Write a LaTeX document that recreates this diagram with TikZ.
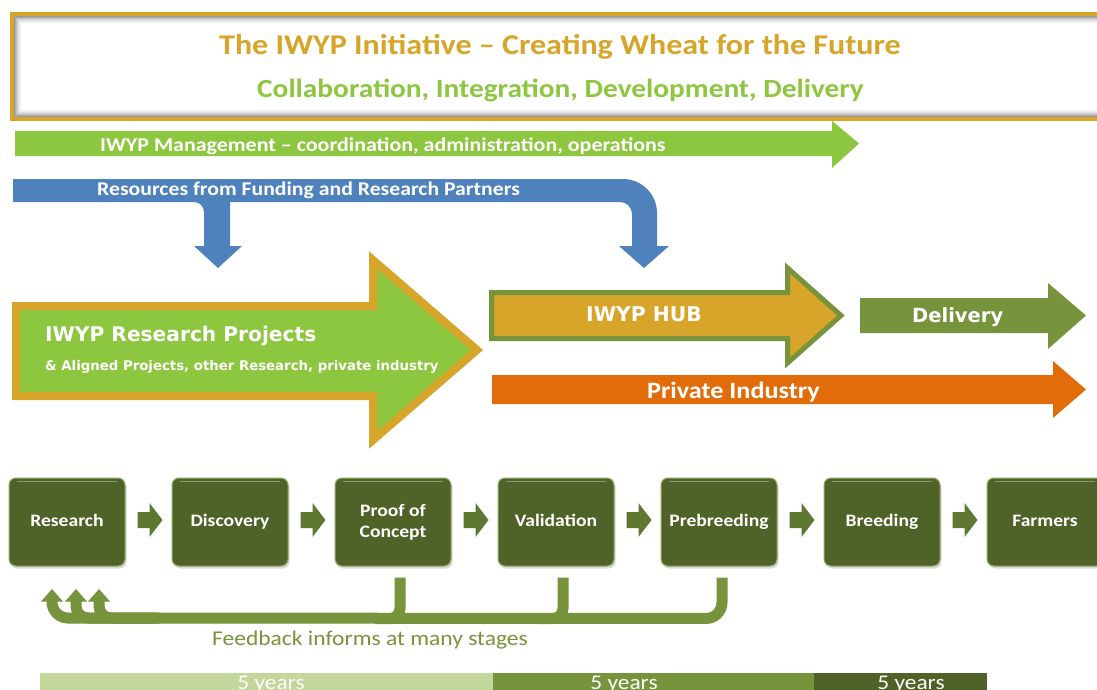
\documentclass[tikz,border=0pt]{standalone}
\usepackage{fontspec}
\setmainfont{Carlito}[FakeStretch=1.12]
\newfontfamily\vfont{DejaVu Sans}
\usetikzlibrary{shadows,calc}
\definecolor{gold}{HTML}{D6A529}
\definecolor{lgreen}{HTML}{8DC63F}
\definecolor{blueA}{HTML}{4F81BD}
\definecolor{olive}{HTML}{77933C}
\definecolor{dolive}{HTML}{4F6228}
\definecolor{orng}{HTML}{E36C0A}
\definecolor{pale}{HTML}{C3D69B}
\definecolor{arrowc}{HTML}{5E7831}
\begin{document}
\begin{tikzpicture}[x=1pt,y=-1pt,
  wlab/.style={text=white,inner sep=0pt,anchor=base west},
  pbox/.style={rounded corners=7pt,minimum width=116pt,minimum height=88pt,inner sep=0pt,
    fill=dolive,draw=olive!80!white,line width=1pt,text=white,align=center,
    font=\bfseries\fontsize{17.5}{21}\selectfont,
    drop shadow={shadow xshift=1.5pt,shadow yshift=-2.5pt,opacity=.3}},
  onel/.style={text height=12pt,text depth=3pt},
  fb/.style={draw=olive,line width=11pt},
  yearlab/.style={text=white,anchor=base,inner sep=0pt,font=\fontsize{20.9}{22}\selectfont}]
\useasboundingbox (0,0) rectangle (1097,690);
\fill[white] (0,0) rectangle (1097,690);

% title box
\fill[white] (12,14) rectangle (1115,119);
\foreach \i/\c in {0/40,1/32,2/25,3/18,4/12,5/8,6/5,7/2}{
  \draw[black!\c,line width=1pt] (14.5+\i,16.5+\i) rectangle (1120,116.5-\i);
}
\draw[gold,line width=4pt] (12,14) rectangle (1115,119);
\node[font=\bfseries\fontsize{28.6}{30}\selectfont,text=gold,anchor=base,inner sep=0pt] (title) at (560,55) {The IWYP Initiative – Creating Wheat for the Future};
\node[font=\bfseries\fontsize{26.2}{28}\selectfont,text=lgreen,anchor=base,inner sep=0pt] (subtitle) at (560.5,98) {Collaboration, Integration, Development, Delivery};

% management arrow
\fill[lgreen] (15,131) -- (832,131) -- (832,121) -- (859,143.5) -- (832,168) -- (832,156) -- (15,156) -- cycle;
\node[wlab,font=\bfseries\fontsize{19.6}{21}\selectfont] (mgmt) at (100,151) {IWYP Management – coordination, administration, operations};

% resources arrow
\fill[blueA] (13,179) -- (623,179) arc[start angle=-90,end angle=0,radius=34] -- (657,246) -- (669,246) -- (644,268) -- (619,246) -- (632,246) -- (632,214) arc[start angle=0,end angle=-90,radius=12] -- (230,202) -- (230,246) -- (242,246) -- (218,268) -- (194,246) -- (204,246) -- (204,212) arc[start angle=0,end angle=-90,radius=10] -- (13,202) -- cycle;
\node[wlab,font=\bfseries\fontsize{19.4}{21}\selectfont] (res) at (97,195) {Resources from Funding and Research Partners};

% research projects arrow
\draw[gold,line width=8pt,fill=lgreen,line join=miter] (16,306) -- (373,306) -- (373,260) -- (477,350) -- (373,440) -- (373,396) -- (16,396) -- cycle;
\node[wlab,font=\vfont\bfseries\fontsize{20.2}{22}\selectfont] (rp) at (45,341) {IWYP Research Projects};
\node[wlab,font=\vfont\bfseries\fontsize{13.3}{15}\selectfont] (rp2) at (45,370.5) {\& Aligned Projects, other Research, private industry};

% hub arrow
\draw[olive,line width=5pt,fill=gold,line join=miter] (491.5,292.5) -- (787.5,292.5) -- (787.5,268) -- (841,315.5) -- (787.5,363) -- (787.5,338.5) -- (491.5,338.5) -- cycle;
\node[wlab,font=\vfont\bfseries\fontsize{20.3}{22}\selectfont] (hub) at (586,321) {IWYP HUB};

% delivery arrow
\fill[olive] (860,298) -- (1048,298) -- (1048,283) -- (1086,315.5) -- (1048,349) -- (1048,333) -- (860,333) -- cycle;
\node[wlab,font=\vfont\bfseries\fontsize{19.5}{21}\selectfont] (deliv) at (912,322.7) {Delivery};

% private industry arrow
\fill[orng] (492,375) -- (1053,375) -- (1053,361) -- (1086,389.5) -- (1053,418) -- (1053,404) -- (492,404) -- cycle;
\node[wlab,font=\bfseries\fontsize{23.4}{25}\selectfont] (priv) at (647,398) {Private Industry};

% process boxes
\node[pbox,onel] (b1) at (67,522) {Research};
\node[pbox,onel] (b2) at (230,522) {Discovery};
\node[pbox] (b3) at (393,522) {Proof of\\Concept};
\node[pbox,onel] (b4) at (556,522) {Validation};
\node[pbox,onel] (b5) at (719,522) {Prebreeding};
\node[pbox,onel] (b6) at (882,522) {Breeding};
\node[pbox,onel] (b7) at (1045,522) {Farmers};
\foreach \a in {b1,b2,b3,b4,b5,b6,b7}{
  \draw[white,opacity=.35,line width=1.5pt,line cap=round] ($(\a.north west)+(9,4)$) -- ($(\a.north east)+(-9,4)$);
}
\foreach \a in {b1,b2,b3,b4,b5,b6}{
  \fill[arrowc] ($(\a.east)+(12,-10)$) -- ($(\a.east)+(24,-10)$) -- ($(\a.east)+(24,-19)$) -- ($(\a.east)+(37,-2)$) -- ($(\a.east)+(24,15)$) -- ($(\a.east)+(24,6)$) -- ($(\a.east)+(12,6)$) -- cycle;
}

% feedback
\coordinate (t1) at (52,589);
\coordinate (t2) at (76,589);
\coordinate (t3) at (99,589);
\draw[fb,rounded corners=10pt] ([xshift=7pt,yshift=-11pt]b3.south) -- ++(0,41) -- ++(-25,0);
\draw[fb,rounded corners=10pt] ([xshift=7pt,yshift=-11pt]b4.south) -- ++(0,41) -- ++(-25,0);
\draw[fb,rounded corners=16pt] ([xshift=3pt,yshift=-11pt]b5.south) -- ++(0,41) -- ($(t1)+(0,29)$) -- ($(t1)+(0,12)$);
\draw[fb,rounded corners=12pt] ($(t3)+(60,29)$) -- ($(t2)+(0,29)$) -- ($(t2)+(0,12)$);
\draw[fb,rounded corners=12pt] ($(t3)+(60,29)$) -- ($(t3)+(0,29)$) -- ($(t3)+(0,12)$);
\foreach \t in {t1,t2,t3}{
  \fill[olive] ($(\t)+(-11,12.5)$) -- ($(\t)+(11,12.5)$) -- (\t) -- cycle;
}
\node[font=\fontsize{21}{22}\selectfont,text=olive,anchor=base,inner sep=0pt] (fbtext) at (370,645) {Feedback informs at many stages};

% time bars
\fill[pale] (40,673) rectangle (493,700);
\fill[olive] (493,673) rectangle (814,700);
\fill[dolive] (814,673) rectangle (987,700);
\node[yearlab] (y1) at (271,689) {5 years};
\node[yearlab] (y2) at (624,689) {5 years};
\node[yearlab] (y3) at (911,689) {5 years};
\end{tikzpicture}
\end{document}
